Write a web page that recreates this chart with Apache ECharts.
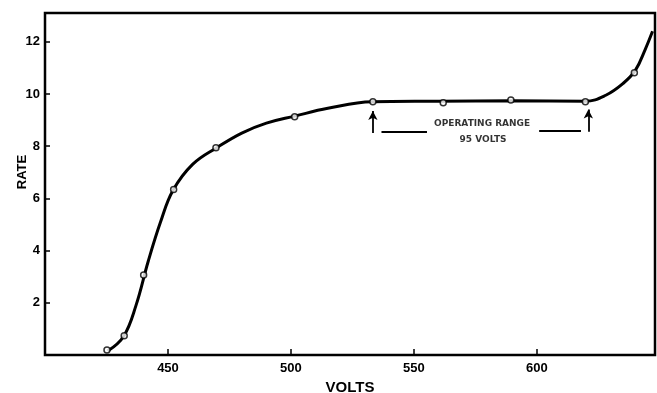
<!DOCTYPE html>
<html><head><meta charset="utf-8">
<script src="https://cdn.jsdelivr.net/npm/echarts@6/dist/echarts.min.js"></script>
<style>html,body{margin:0;padding:0;background:#fff}#c{width:657px;height:393px}</style>
</head><body><div id="c"></div>
<script>
// Measured points (open circles)
const pointVolts = [425.2, 432.2, 440.1, 452.3, 469.5, 501.5, 533.3, 561.9, 589.4, 619.7, 639.6];
const pointRate  = [0.19, 0.74, 3.06, 6.34, 7.94, 9.13, 9.70, 9.66, 9.77, 9.70, 10.81];
// Smooth drawn curve
const curveVolts = [425.5, 432, 437, 442, 447, 452, 460, 470, 480, 490, 501.5, 515, 533, 560, 590, 619.7, 628, 635, 640, 644, 647];
const curveRate  = [0.15, 0.72, 1.9, 3.6, 5.1, 6.3, 7.3, 7.95, 8.5, 8.88, 9.15, 9.45, 9.70, 9.72, 9.74, 9.72, 9.95, 10.4, 10.9, 11.7, 12.4];
const xTicks = [450, 500, 550, 600];
const yTicks = [2, 4, 6, 8, 10, 12];
// Operating range annotation (volts / rate)
const rangeStart = 533.3, rangeEnd = 620.9;
const annotationLines = ['OPERATING RANGE', '95 VOLTS'];

const chart = echarts.init(document.getElementById('c'));
const font = 'Liberation Sans';
chart.setOption({
  animation: false,
  backgroundColor: '#fff',
  grid: { left: 45, right: 2, top: 13, bottom: 38, show: true, borderColor: '#000', borderWidth: 2.5, outerBoundsMode: 'none', containLabel: false },
  graphic: [{
    type: 'text', x: 22, y: 172, rotation: Math.PI / 2, silent: true,
    style: { text: 'RATE', fill: '#000', font: 'bold 13px "Liberation Sans"', align: 'center', verticalAlign: 'middle' }
  }],
  xAxis: {
    type: 'value', min: 400, max: 648, interval: 50,
    name: 'VOLTS', nameLocation: 'middle', nameGap: 24,
    nameTextStyle: { color: '#000', fontFamily: font, fontWeight: 'bold', fontSize: 15 },
    axisLine: { show: false },
    splitLine: { show: false },
    axisTick: { inside: true, length: 6, lineStyle: { color: '#000', width: 1.5 }, customValues: xTicks },
    axisLabel: { color: '#000', fontFamily: font, fontWeight: 'bold', fontSize: 13, margin: 7, customValues: xTicks }
  },
  yAxis: {
    type: 'value', min: 0, max: 13.1, interval: 2,
    axisLine: { show: false },
    splitLine: { show: false },
    axisTick: { inside: true, length: 5, lineStyle: { color: '#000', width: 1.5 }, customValues: yTicks },
    axisLabel: { color: '#000', fontFamily: font, fontWeight: 'bold', fontSize: 13, margin: 5, customValues: yTicks }
  },
  series: [
    {
      type: 'line', smooth: 0.4, showSymbol: false, silent: true,
      data: curveVolts.map((v, i) => [v, curveRate[i]]),
      lineStyle: { color: '#000', width: 3 },
      markLine: {
        silent: true, symbolSize: [7, 9],
        lineStyle: { color: '#000', width: 1.8, type: 'solid' },
        label: { show: false },
        data: [
          [{ coord: [rangeStart, 8.5], symbol: 'none' }, { coord: [rangeStart, 9.35], symbol: 'arrow' }],
          [{ coord: [rangeEnd, 8.55], symbol: 'none' }, { coord: [rangeEnd, 9.4], symbol: 'arrow' }],
          [{ coord: [rangeStart + 3.5, 8.55], symbol: 'none' }, { coord: [555.3, 8.55], symbol: 'none' }],
          [{ coord: [600.9, 8.58], symbol: 'none' }, { coord: [rangeEnd - 3, 8.58], symbol: 'none' }]
        ]
      }
    },
    {
      type: 'scatter', symbol: 'circle', symbolSize: 6, silent: true, z: 5,
      data: pointVolts.map((v, i) => [v, pointRate[i]]),
      itemStyle: { color: '#fff', borderColor: '#000', borderWidth: 1.5 }
    },
    {
      type: 'scatter', symbolSize: 0, silent: true,
      data: [[577.7, 8.88], [578.1, 8.23]],
      label: {
        show: true, position: 'inside', color: '#000', fontFamily: 'DejaVu Sans', fontWeight: 'bold', fontSize: 9,
        formatter: p => annotationLines[p.dataIndex]
      }
    }
  ]
});
</script></body></html>
